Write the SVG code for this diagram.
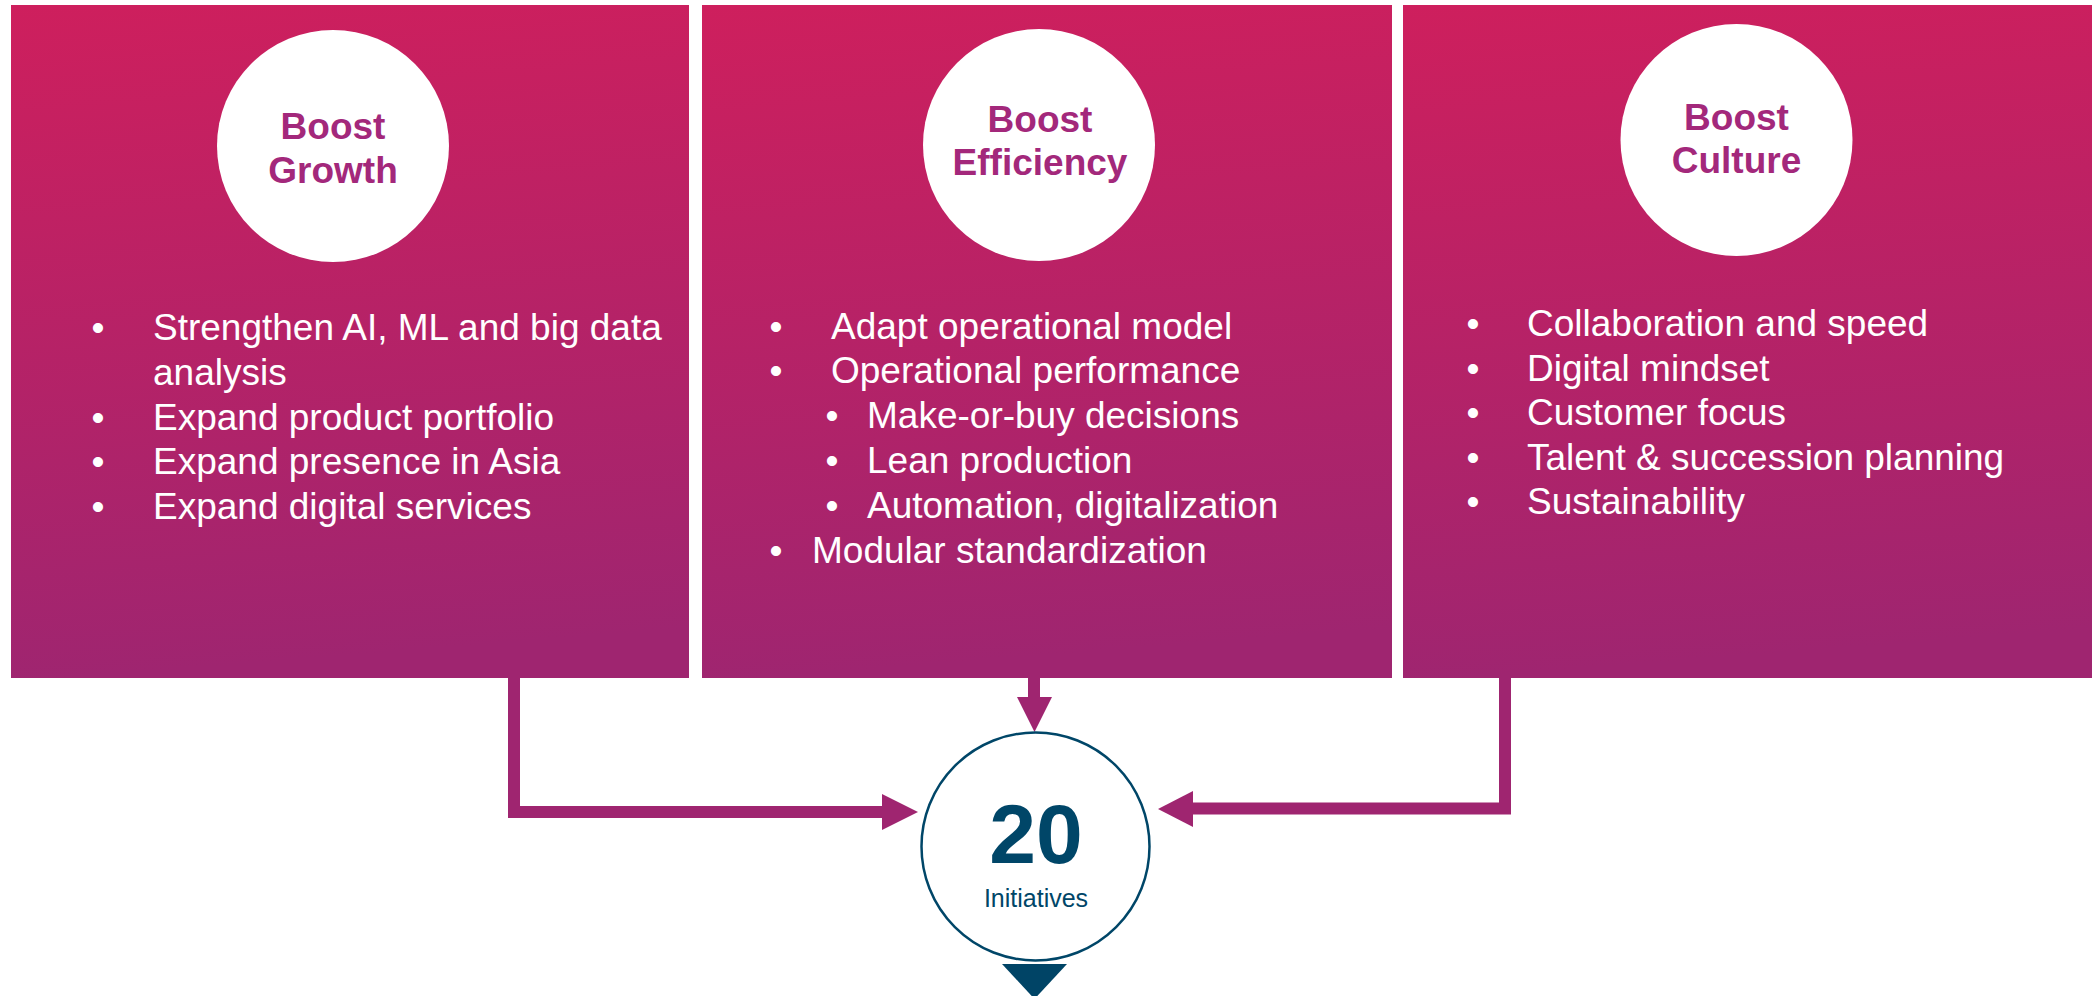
<svg xmlns="http://www.w3.org/2000/svg" width="2092" height="996" viewBox="0 0 2092 996">
  <defs>
    <linearGradient id="boxGrad" x1="0" y1="0" x2="0.08" y2="1">
      <stop offset="0" stop-color="#CE1F5D"/>
      <stop offset="1" stop-color="#9F2570"/>
    </linearGradient>
    <style>
      .box { fill: url(#boxGrad); }
      .badge { fill: #FFFFFF; }
      .title { font-family: "Liberation Sans", Arial, sans-serif; font-weight: bold; font-size: 37px; fill: #A3287B; text-anchor: middle; }
      .item { font-family: "Liberation Sans", Arial, sans-serif; font-size: 37px; fill: #FFFFFF; }
      .dot { font-family: "Liberation Sans", Arial, sans-serif; font-size: 37px; fill: #FFFFFF; text-anchor: middle; }
      .conn { fill: none; stroke: #9F2570; stroke-width: 12; }
      .head { fill: #9F2570; }
      .num { font-family: "Liberation Sans", Arial, sans-serif; font-weight: bold; font-size: 84px; fill: #004668; text-anchor: middle; }
      .lbl { font-family: "Liberation Sans", Arial, sans-serif; font-size: 25px; fill: #004668; text-anchor: middle; }
    </style>
  </defs>

  <g id="growth">
    <rect class="box" x="11" y="5" width="678" height="673"/>
    <circle class="badge" cx="333" cy="146" r="116"/>
    <text class="title" x="333" y="139">Boost</text>
    <text class="title" x="333" y="183">Growth</text>
    <text class="dot" x="98" y="340">•</text>
    <text class="item" x="153" y="340">Strengthen AI, ML and big data</text>
    <text class="item" x="153" y="385">analysis</text>
    <text class="dot" x="98" y="429.5">•</text>
    <text class="item" x="153" y="429.5">Expand product portfolio</text>
    <text class="dot" x="98" y="474">•</text>
    <text class="item" x="153" y="474">Expand presence in Asia</text>
    <text class="dot" x="98" y="519">•</text>
    <text class="item" x="153" y="519">Expand digital services</text>
  </g>

  <g id="efficiency">
    <rect class="box" x="702" y="5" width="690" height="673"/>
    <circle class="badge" cx="1039" cy="145" r="116"/>
    <text class="title" x="1040" y="132">Boost</text>
    <text class="title" x="1040" y="175">Efficiency</text>
    <text class="dot" x="776" y="338.5">•</text>
    <text class="item" x="831" y="338.5">Adapt operational model</text>
    <text class="dot" x="776" y="383">•</text>
    <text class="item" x="831" y="383">Operational performance</text>
    <text class="dot" x="832" y="428">•</text>
    <text class="item" x="867" y="428">Make-or-buy decisions</text>
    <text class="dot" x="832" y="472.5">•</text>
    <text class="item" x="867" y="472.5">Lean production</text>
    <text class="dot" x="832" y="518">•</text>
    <text class="item" x="867" y="518">Automation, digitalization</text>
    <text class="dot" x="776" y="562.5">•</text>
    <text class="item" x="812" y="562.5">Modular standardization</text>
  </g>

  <g id="culture">
    <rect class="box" x="1403" y="5" width="689" height="673"/>
    <circle class="badge" cx="1736.5" cy="140" r="116"/>
    <text class="title" x="1736.5" y="129.5">Boost</text>
    <text class="title" x="1736.5" y="173">Culture</text>
    <text class="dot" x="1473" y="336">•</text>
    <text class="item" x="1527" y="336">Collaboration and speed</text>
    <text class="dot" x="1473" y="380.5">•</text>
    <text class="item" x="1527" y="380.5">Digital mindset</text>
    <text class="dot" x="1473" y="425">•</text>
    <text class="item" x="1527" y="425">Customer focus</text>
    <text class="dot" x="1473" y="469.5">•</text>
    <text class="item" x="1527" y="469.5">Talent &amp; succession planning</text>
    <text class="dot" x="1473" y="514">•</text>
    <text class="item" x="1527" y="514">Sustainability</text>
  </g>

  <g id="connectors">
    <path class="conn" d="M514,677 V812 H884"/>
    <polygon class="head" points="882,794 918,812 882,830"/>
    <path class="conn" d="M1034,677 V699"/>
    <polygon class="head" points="1017,697 1052,697 1034.5,732"/>
    <path class="conn" d="M1505,677 V808.5 H1191"/>
    <polygon class="head" points="1193,791 1158,809 1193,827"/>
  </g>

  <g id="initiatives">
    <circle cx="1035.5" cy="846.5" r="114" fill="#FFFFFF" stroke="#004668" stroke-width="2.5"/>
    <text class="num" x="1036" y="863">20</text>
    <text class="lbl" x="1036" y="907">Initiatives</text>
  </g>

  <g id="next">
    <polygon points="1002,964 1067,964 1034.5,999" fill="#004466"/>
  </g>
</svg>
